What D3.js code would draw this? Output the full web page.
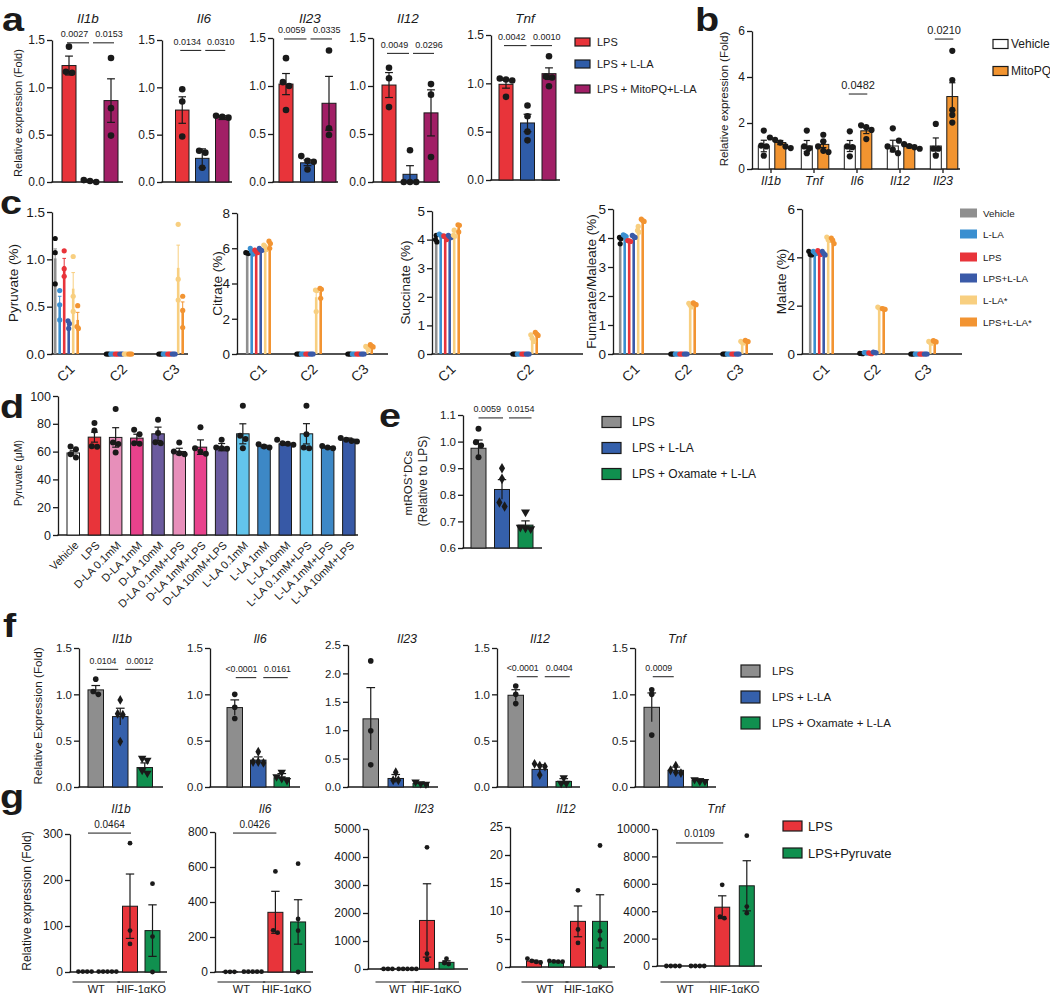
<!DOCTYPE html>
<html><head><meta charset="utf-8">
<script src="https://cdn.jsdelivr.net/npm/d3@7"></script>
<style>
body{margin:0;background:#fff;}
svg{display:block;}
</style></head><body>
<svg id="fig" width="1050" height="994"></svg>
<script>
// ================= DATA =================
// ---- panel a ----
const aGenes = ["Il1b","Il6","Il23","Il12","Tnf"];
const aGroups = ["LPS","LPS + L-LA","LPS + MitoPQ+L-LA"];
const aMeans = [[1.23,0.01,0.86],[0.76,0.25,0.68],[1.02,0.20,0.82],[1.01,0.08,0.72],[0.99,0.59,1.10]];
const aSem = [[0.10,0.005,0.23],[0.14,0.10,0.02],[0.11,0.03,0.28],[0.13,0.09,0.24],[0.04,0.09,0.06]];
const aPoints = [
  [[1.43,1.165,1.154],[0.02,0.0,0.01],[1.31,0.78,0.49]],
  [[0.98,0.85,0.48],[0.33,0.31,0.15],[0.70,0.69,0.68]],
  [[1.29,1.04,1.0,0.75],[0.27,0.22,0.21,0.13],[1.37,0.56,0.49]],
  [[1.19,1.08,0.78],[0.33,0.0,0.0,0.0],[1.02,0.91,0.26]],
  [[1.05,1.04,1.03,0.86],[0.77,0.66,0.50,0.41],[1.28,1.07,1.06,0.97]]
];
const aPvals = [["0.0027","0.0153"],["0.0134","0.0310"],["0.0059","0.0335"],["0.0049","0.0296"],["0.0042","0.0010"]];
const aPvalY = [1.47,1.39,1.49,1.34,1.39];
const aTicks = [0,0.5,1,1.5];

// ---- panel b ----
const bGenes = ["Il1b","Tnf","Il6","Il12","Il23"];
const bSeries = ["Vehicle","MitoPQ"];
const bMeans = [[1.0,1.15],[1.0,1.07],[1.0,1.66],[1.0,0.98],[1.0,3.15]];
const bSem = [[0.25,0.09],[0.24,0.14],[0.24,0.12],[0.25,0.06],[0.35,0.60]];
const bPoints = [
  [[1.67,1.02,0.98,0.58],[1.37,1.27,1.15,0.98,0.91]],
  [[1.67,0.98,0.90,0.69],[1.49,1.20,0.98,0.79,0.74]],
  [[1.64,0.98,0.95,0.55],[1.90,1.82,1.70,1.30]],
  [[1.77,0.98,0.84,0.69],[1.23,1.08,1.00,0.95,0.88]],
  [[1.96,0.88,0.88,0.58],[5.14,3.87,2.57,2.35,2.02]]
];
const bPvals = [null,null,"0.0482",null,"0.0210"];
const bPvalY = [null,null,3.26,null,5.65];
const bTicks = [0,2,4,6];

// ---- panel c ----
const cSeries = ["Vehicle","L-LA","LPS","LPS+L-LA","L-LA*","LPS+L-LA*"];
const cMetabolites = ["Pyruvate (%)","Citrate (%)","Succinate (%)","Fumarate/Maleate (%)","Malate (%)"];
const cIsotopologues = [["C1","C2","C3"],["C1","C2","C3"],["C1","C2"],["C1","C2","C3"],["C1","C2","C3"]];
const cMax = [1.5,8,5,5,6];
const cTicks = [[0,0.5,1,1.5],[0,2,4,6,8],[0,1,2,3,4,5],[0,1,2,3,4,5],[0,2,4,6]];
const cMeans = [
  [[1.01,0.52,0.93,0.31,0.69,0.36],[0,0,0,0,0,0],[0,0,0,0,0.91,0.45]],
  [[5.72,5.83,5.82,5.92,6.07,6.22],[0,0,0,0,3.22,3.52],[0,0,0,0,0.35,0.46]],
  [[4.02,4.15,4.08,4.11,4.20,4.43],[0,0,0,0,0.55,0.70]],
  [[3.93,4.08,3.90,4.05,4.28,4.60],[0,0,0,0,1.68,1.72],[0,0,0,0,0.40,0.44]],
  [[4.15,4.20,4.20,4.17,4.75,4.70],[0.02,0.05,0.03,0.06,1.90,1.86],[0,0,0,0,0.48,0.52]]
];
const cSem = [
  [[0.10,0.09,0.08,0.03,0.17,0.08],[0,0,0,0,0,0],[0,0,0,0,0.24,0.10]],
  [[0.05,0.10,0.07,0.05,0.08,0.12],[0,0,0,0,0.40,0.18],[0,0,0,0,0.06,0.05]],
  [[0.07,0.03,0.05,0.04,0.07,0.08],[0,0,0,0,0.07,0.04]],
  [[0.07,0.02,0.01,0.02,0.06,0.03],[0,0,0,0,0.04,0.02],[0,0,0,0,0.02,0.01]],
  [[0.05,0.03,0.05,0.05,0.05,0.07],[0.01,0.01,0.01,0.01,0.02,0.01],[0,0,0,0,0.02,0.02]]
];
const cPoints = [
  [ [[1.22,1.07,0.74],[0.67,0.52,0.36],[1.09,0.90,0.82],[0.35,0.32,0.27],[1.03,0.61,0.45],[0.51,0.29,0.27]],
    [[0,0,0],[0,0,0],[0,0,0],[0,0,0],[0,0,0],[0,0,0]],
    [[0,0,0],[0,0,0],[0,0,0],[0,0,0],[1.37,0.79,0.57],[0.61,0.46,0.28]] ],
  [ [[5.75,5.72,5.70],[5.99,5.83,5.67],[5.90,5.80,5.75],[6.00,5.90,5.88],[6.18,6.10,5.93],[6.40,6.27,6.00]],
    [[0,0,0],[0,0,0],[0,0,0],[0,0,0],[3.63,3.60,2.41],[3.73,3.67,3.16]],
    [[0,0,0],[0,0,0],[0,0,0],[0,0,0],[0.43,0.37,0.25],[0.53,0.45,0.40]] ],
  [ [[4.15,4.00,3.92],[4.19,4.15,4.12],[4.13,4.10,4.00],[4.15,4.10,4.07],[4.33,4.15,4.12],[4.52,4.50,4.27]],
    [[0,0,0],[0,0,0],[0,0,0],[0,0,0],[0.67,0.55,0.44],[0.76,0.70,0.65]] ],
  [ [[4.02,3.97,3.80],[4.11,4.08,4.05],[3.91,3.90,3.88],[4.09,4.05,4.02],[4.40,4.26,4.20],[4.65,4.60,4.57]],
    [[0,0,0],[0,0,0],[0,0,0],[0,0,0],[1.75,1.68,1.62],[1.76,1.72,1.70]],
    [[0,0,0],[0,0,0],[0,0,0],[0,0,0],[0.44,0.40,0.38],[0.47,0.44,0.43]] ],
  [ [[4.25,4.12,4.10],[4.25,4.20,4.15],[4.28,4.20,4.12],[4.25,4.15,4.10],[4.84,4.73,4.70],[4.80,4.70,4.57]],
    [[0.03,0.02,0.01],[0.06,0.05,0.04],[0.05,0.03,0.01],[0.08,0.06,0.05],[1.94,1.90,1.88],[1.88,1.86,1.85]],
    [[0,0,0],[0,0,0],[0,0,0],[0,0,0],[0.52,0.48,0.45],[0.55,0.52,0.50]] ]
];

// ---- panel d ----
const dCats = ["Vehicle","LPS","D-LA 0.1mM","D-LA 1mM","D-LA 10mM","D-LA 0.1mM+LPS","D-LA 1mM+LPS","D-LA 10mM+LPS",
               "L-LA 0.1mM","L-LA 1mM","L-LA 10mM","L-LA 0.1mM+LPS","L-LA 1mM+LPS","L-LA 10mM+LPS"];
const dMeans = [59.0,70.4,70.2,69.7,72.8,60.1,63.2,63.2,72.8,63.7,65.6,72.8,63.0,69.0];
const dSem = [1.6,3.6,7.0,2.8,4.8,2.3,5.2,2.6,7.2,0.9,1.0,7.3,0.6,0.8];
const dPoints = [[63.6,61.7,58.1,55.7],[80.5,75.2,63.9,63.5],[90.6,66.5,65.5,59.3],[75.7,72.5,66.0,65.6],
  [82.9,73.3,66.8,66.0],[66.5,60.0,58.9,58.1],[77.6,62.5,60.0,58.5],[68.5,63.0,62.5,62.0],
  [93.0,71.4,69.0,62.5],[65.3,63.7,63.0],[68.5,66.0,65.6,64.9],[93.0,72.5,63.0,62.5],[64.1,63.0,62.5],[69.7,68.5,67.7,67.3]];
const dTicks = [0,20,40,60,80,100];

// ---- panel e ----
const eGroups = ["LPS","LPS + L-LA","LPS + Oxamate + L-LA"];
const eMeans = [0.975,0.82,0.686];
const eSem = [0.031,0.037,0.016];
const ePoints = [[1.048,0.998,0.985,0.941],[0.90,0.86,0.771,0.756],[0.735,0.678,0.675,0.672]];
const ePvals = ["0.0059","0.0154"];
const ePvalY = 1.089;
const eTicks = [0.6,0.7,0.8,0.9,1.0,1.1];

// ---- panel f ----
const fGenes = ["Il1b","Il6","Il23","Il12","Tnf"];
const fGroups = eGroups;
const fMeans = [[1.048,0.76,0.21],[0.857,0.29,0.10],[1.20,0.15,0.06],[0.99,0.19,0.06],[0.86,0.18,0.07]];
const fSem = [[0.047,0.09,0.05],[0.083,0.035,0.045],[0.55,0.07,0.02],[0.06,0.05,0.03],[0.155,0.035,0.02]];
const fPoints = [
  [[1.164,1.03,1.0],[0.94,0.79,0.78,0.49],[0.31,0.29,0.18,0.15]],
  [[1.0,0.86,0.74],[0.38,0.27,0.27,0.26],[0.16,0.11,0.09,0.07]],
  [[2.22,0.99,0.39],[0.26,0.12,0.12],[0.09,0.05,0.06]],
  [[1.09,1.0,0.9],[0.25,0.23,0.22,0.13],[0.10,0.04,0.04]],
  [[1.05,1.0,0.56],[0.23,0.18,0.16,0.15],[0.08,0.06,0.06]]
];
const fMax = [1.5,1.5,2.5,1.5,1.5];
const fTicks = [[0,0.5,1,1.5],[0,0.5,1,1.5],[0,0.5,1,1.5,2,2.5],[0,0.5,1,1.5],[0,0.5,1,1.5]];
const fPvals = [["0.0104","0.0012"],["<0.0001","0.0161"],[],["<0.0001","0.0404"],["0.0009"]];
const fPvalY = [1.27,1.18,null,1.19,1.19];

// ---- panel g ----
const gGenes = ["Il1b","Il6","Il23","Il12","Tnf"];
const gGenotypes = ["WT","HIF-1αKO"];
const gTreat = ["LPS","LPS+Pyruvate"];
const gBars = ["WT LPS","WT LPS+Pyruvate","KO LPS","KO LPS+Pyruvate"];
const gMeans = [[1,1,143,90],[1,1,341,286],[1,1,1734,238],[1.07,1.0,8.15,8.15],[1,1,4293,5854]];
const gSem = [[0.1,0.1,70,56],[0.1,0.1,120,127],[0.1,0.1,1310,55],[0.15,0.05,2.75,4.75],[0.1,0.1,830,1830]];
const gPoints = [
  [[1,1,1,1],[1,1,1,1,1],[280,90,61],[192,77,0]],
  [[1,1,1],[2,2,2,2,2],[575,238,225],[619,303,236,0]],
  [[1,1,1],[1,1,1,1,1],[4347,546,333],[368,214,178]],
  [[1.5,1.1,0.9,0.8],[1.1,1.0,0.95,0.95],[13.7,6.7,4.3],[21.7,6.4,4.9,0]],
  [[1,1,1,1],[1,1,1,1],[5927,3610,3488],[9512,4341,3854]]
];
const gMax = [300,800,5000,25,10000];
const gTicks = [[0,100,200,300],[0,200,400,600,800],[0,1000,2000,3000,4000,5000],[0,5,10,15,20,25],[0,2000,4000,6000,8000,10000]];
const gPvals = ["0.0464","0.0426",null,null,"0.0109"];
const gPvalY = [302,794,null,null,8980];

// ================= STYLE / LAYOUT =================
const FONT = "'Liberation Sans', Arial, Helvetica, sans-serif";
const INK = "#1a1a1a";
const RED = "#e8343a", BLUE = "#2f5ca8", PURPLE = "#a11f66", ORANGE = "#f29430",
      GRAY = "#8e8e8e", GREEN = "#10904f";
const aColors = [RED, BLUE, PURPLE];
const bColors = ["#ffffff", ORANGE];
const cColors = ["#8f8f8f","#3a8fd0","#e8343a","#3a5aa8","#f8cf80","#f29432"];
const cDot = ["#111111","#3a8fd0","#e8343a","#3a5aa8","#f8cf80","#f29432"];
const dColors = ["#ffffff",RED,"#e78fba","#e8428c","#6b5b9e","#e78fba","#e8428c","#6b5b9e",
                 "#63c5ec","#3d88c6","#3759a6","#63c5ec","#3d88c6","#3759a6"];
const efColors = [GRAY, "#3560ab", GREEN];
const efShapes = ["circle","diamond","tri"];
const gColors = [RED, GREEN, RED, GREEN];

const svg = d3.select("#fig").attr("font-family", FONT);

function txt(g, x, y, s, fs, o = {}) {
  const t = g.append("text").text(s).attr("font-size", fs).attr("fill", INK)
    .attr("font-family", FONT).attr("text-anchor", o.anchor || "start");
  if (o.italic) t.attr("font-style", "italic");
  if (o.weight) t.attr("font-weight", o.weight);
  if (o.rotate != null) t.attr("transform", `translate(${x},${y}) rotate(${o.rotate})`);
  else t.attr("x", x).attr("y", y);
  return t;
}
function makeBand(cats, left, step, bw) {
  const pi = 1 - bw / step;
  const r0 = left - pi / 2 * step;
  return d3.scaleBand().domain(cats).range([r0, r0 + cats.length * step]).paddingInner(pi).paddingOuter(pi / 2);
}
function yAxis(g, y, x0, ticks, fmt, fs, tl = 5) {
  const a = g.append("g").attr("transform", `translate(${x0},0)`)
    .call(d3.axisLeft(y).tickValues(ticks).tickFormat(fmt).tickSizeInner(tl).tickSizeOuter(0).tickPadding(2));
  a.attr("font-family", FONT).attr("font-size", fs);
  a.select(".domain").attr("stroke", INK).attr("stroke-width", 1.3);
  a.selectAll(".tick line").attr("stroke", INK).attr("stroke-width", 1.3);
  a.selectAll(".tick text").attr("fill", INK);
  return a;
}
function xLine(g, x0, x1, y0) {
  g.append("line").attr("x1", x0 - 0.6).attr("x2", x1).attr("y1", y0).attr("y2", y0)
    .attr("stroke", INK).attr("stroke-width", 1.3);
}
function hline(g, x1, x2, y, w = 1) {
  g.append("line").attr("x1", x1).attr("x2", x2).attr("y1", y).attr("y2", y).attr("stroke", INK).attr("stroke-width", w);
}
function bars(g, cats, xb, y, means, sems, fills, o = {}) {
  const base = y(y.domain()[0]);
  g.selectAll(null).data(cats).enter().append("rect")
    .attr("x", c => xb(c)).attr("width", xb.bandwidth())
    .attr("y", (c, i) => y(means[i])).attr("height", (c, i) => Math.max(0, base - y(means[i])))
    .attr("fill", (c, i) => fills[i])
    .attr("stroke", o.stroke === undefined ? INK : o.stroke).attr("stroke-width", o.sw || 1);
}
function errbars(g, cats, xb, y, means, sems, o = {}) {
  cats.forEach((c, i) => {
    if (!sems[i]) return;
    const cx = xb(c) + xb.bandwidth() / 2, hw = o.cap != null ? o.cap : xb.bandwidth() * 0.28;
    const col = o.colors ? o.colors[i] : INK;
    const hi = y(means[i] + sems[i]), lo = y(Math.max(y.domain()[0], means[i] - sems[i]));
    const w = o.w || 1.2;
    g.append("line").attr("x1", cx).attr("x2", cx).attr("y1", hi).attr("y2", lo).attr("stroke", col).attr("stroke-width", w);
    g.append("line").attr("x1", cx - hw).attr("x2", cx + hw).attr("y1", hi).attr("y2", hi).attr("stroke", col).attr("stroke-width", w);
    if (o.low !== false) g.append("line").attr("x1", cx - hw).attr("x2", cx + hw).attr("y1", lo).attr("y2", lo).attr("stroke", col).attr("stroke-width", w);
  });
}
function spread(vals, y, r, gap) {
  const idx = vals.map((v, i) => i).sort((a, b) => vals[b] - vals[a]);
  const off = new Array(vals.length).fill(0);
  const clusters = []; let cur = [];
  idx.forEach(i => {
    if (cur.length && Math.abs(y(vals[i]) - y(vals[cur[cur.length - 1]])) > r * 1.5) { clusters.push(cur); cur = []; }
    cur.push(i);
  });
  if (cur.length) clusters.push(cur);
  clusters.forEach(c => c.forEach((i, j) => off[i] = (j - (c.length - 1) / 2) * gap));
  return off;
}
function scatter(g, cx, vals, y, r, col, shape = "circle", gap = null) {
  const off = spread(vals, y, r, gap == null ? r * 1.9 : gap);
  vals.forEach((v, i) => {
    const px = cx + off[i], py = y(v);
    if (shape === "circle") g.append("circle").attr("cx", px).attr("cy", py).attr("r", r).attr("fill", col);
    else {
      const sym = shape === "diamond" ? d3.symbolDiamond : d3.symbolTriangle;
      const size = Math.PI * r * r * (shape === "diamond" ? 1.15 : 1.25);
      g.append("path").attr("d", d3.symbol(sym, size)())
        .attr("transform", `translate(${px},${py})${shape === "tri" ? " rotate(180)" : ""}`).attr("fill", col);
    }
  });
}
function legend(g, x, ys, labels, fills, w, h, fs, tx, stroke = INK) {
  labels.forEach((l, i) => {
    g.append("rect").attr("x", x).attr("y", ys[i] - h / 2).attr("width", w).attr("height", h)
      .attr("fill", fills[i]).attr("stroke", stroke).attr("stroke-width", 1.2);
    txt(g, tx, ys[i] + fs * 0.36, l, fs);
  });
}
function panelLetter(x, y, s) {
  txt(svg, 0, 0, s, 30, { weight: "bold" }).attr("x", null).attr("y", null)
    .attr("transform", `translate(${x},${y}) scale(1.32,1.08)`);
}
// p-value bracket: line from x1 to x2 at ly, text shifted by dx
function pBracket(g, x1, x2, ly, label, fs, dx) {
  hline(g, x1, x2, ly);
  txt(g, (x1 + x2) / 2 + dx, ly - 5.5, label, fs, { anchor: "middle" });
}

// ================= PANEL a =================
const aLayout = [
  { ax: 52, left: 62, step: 21, bw: 14, end: 123, top: 40, bot: 182, tx: 88 },
  { ax: 162, left: 175.5, step: 20, bw: 13.5, end: 232, top: 40, bot: 182, tx: 204 },
  { ax: 273, left: 279, step: 21.5, bw: 14, end: 338, top: 38, bot: 182, tx: 310 },
  { ax: 373, left: 382, step: 21, bw: 14, end: 440, top: 38, bot: 182, tx: 408 },
  { ax: 491, left: 499, step: 21.5, bw: 14, end: 560, top: 35, bot: 180, tx: 525 }
];
panelLetter(2, 31, "a");
const aG = svg.append("g");
aGenes.forEach((gene, k) => {
  const L = aLayout[k];
  const y = d3.scaleLinear().domain([0, 1.5]).range([L.bot, L.top]);
  const xb = makeBand(aGroups, L.left, L.step, L.bw);
  yAxis(aG, y, L.ax, aTicks, d3.format(".1f"), 12);
  xLine(aG, L.ax, L.end, L.bot);
  bars(aG, aGroups, xb, y, aMeans[k], aSem[k], aColors);
  aGroups.forEach((c, i) => scatter(aG, xb(c) + xb.bandwidth() / 2, aPoints[k][i], y, 3.3, INK, "circle", 6.2));
  errbars(aG, aGroups, xb, y, aMeans[k], aSem[k]);
  txt(aG, L.tx, 23, gene, 13.5, { anchor: "middle", italic: true });
  const cen = aGroups.map(c => xb(c) + xb.bandwidth() / 2);
  const ly = y(aPvalY[k]);
  pBracket(aG, cen[0] - 2, cen[1] - 1, ly, aPvals[k][0], 9, -3.5);
  pBracket(aG, cen[1] + 3, cen[2] + 3, ly, aPvals[k][1], 9, 5.5);
});
txt(aG, 22, 113, "Relative expression (Fold)", 11, { anchor: "middle", rotate: -90 });
legend(aG, 575, [42, 64, 89], aGroups, aColors, 15, 8, 11, 597);

// ================= PANEL b =================
panelLetter(695, 31, "b");
const bG = svg.append("g");
{
  const y = d3.scaleLinear().domain([0, 6]).range([169, 31]);
  const xo = d3.scaleBand().domain(bGenes).range([749.5, 749.5 + 5 * 43]);
  const xi = makeBand(bSeries, 8.8, 16.5, 11);
  yAxis(bG, y, 752, bTicks, d3.format("d"), 12);
  xLine(bG, 752, 960, 169);
  bGenes.forEach((gene, k) => {
    const gx = bG.append("g").attr("transform", `translate(${xo(gene)},0)`);
    bars(gx, bSeries, xi, y, bMeans[k], bSem[k], bColors);
    bSeries.forEach((s, i) => scatter(gx, xi(s) + xi.bandwidth() / 2, bPoints[k][i], y, 3.1, INK, "circle", 5.2));
    errbars(gx, bSeries, xi, y, bMeans[k], bSem[k]);
    const cx = xo(gene) + xo.bandwidth() / 2;
    bG.append("line").attr("x1", cx).attr("x2", cx).attr("y1", 169).attr("y2", 173).attr("stroke", INK).attr("stroke-width", 1.3);
    txt(bG, cx, 185, gene, 12.5, { anchor: "middle", italic: true });
    if (bPvals[k]) {
      const c0 = xo(gene) + xi(bSeries[0]) + xi.bandwidth() / 2 - 1, c1 = xo(gene) + xi(bSeries[1]) + xi.bandwidth() / 2 + 1;
      pBracket(bG, c0, c1, y(bPvalY[k]), bPvals[k], 11, 0);
    }
  });
  txt(bG, 728, 99, "Relative expression (Fold)", 11.6, { anchor: "middle", rotate: -90 });
  legend(bG, 993, [44, 71], bSeries, bColors, 15, 9, 12, 1011);
}

// ================= PANEL c =================
panelLetter(0, 214, "c");
const cG = svg.append("g");
const cLayout = [
  { ax: 52, left: 53, step: 52.5, end: 188, top: 212, lx: 18 },
  { ax: 237, left: 245, step: 51, end: 388, top: 213, lx: 222 },
  { ax: 432, left: 434, step: 78, end: 583, top: 211, lx: 410 },
  { ax: 613, left: 618, step: 52, end: 773, top: 209, lx: 596 },
  { ax: 802, left: 808, step: 51, end: 962, top: 209, lx: 786 }
];
const cBot = 354;
cMetabolites.forEach((m, k) => {
  const L = cLayout[k];
  const groups = cIsotopologues[k];
  const y = d3.scaleLinear().domain([0, cMax[k]]).range([cBot, L.top]);
  const xo = makeBand(groups, L.left, L.step, 27);
  const xi = makeBand(cSeries, 0.9, 4.5, 2.6);
  yAxis(cG, y, L.ax, cTicks[k], cMax[k] < 2 ? d3.format(".1f") : d3.format("d"), 13.5, 5);
  xLine(cG, L.ax, L.end, cBot);
  groups.forEach((gn, gi) => {
    const gx = cG.append("g").attr("transform", `translate(${xo(gn)},0)`);
    bars(gx, cSeries, xi, y, cMeans[k][gi], cSem[k][gi], cColors, { stroke: "none" });
    errbars(gx, cSeries, xi, y, cMeans[k][gi], cSem[k][gi], { colors: cColors, cap: 1.8, w: 1, low: false });
    cSeries.forEach((s, si) => scatter(gx, xi(s) + xi.bandwidth() / 2, cPoints[k][gi][si], y, 2.6, cDot[si], "circle", 1.4));
    txt(cG, xo(gn) + xo.bandwidth() / 2 + 9, cBot + 16, gn, 14, { anchor: "end", rotate: -45 });
  });
  txt(cG, L.lx, (L.top + cBot) / 2, m, 13.5, { anchor: "middle", rotate: -90 });
});
legend(cG, 960, [213, 234, 257, 278, 300, 322], cSeries, cColors, 17, 9, 9.8, 983, "none");

// ================= PANEL d =================
panelLetter(0, 418, "d");
const dG = svg.append("g");
{
  const y = d3.scaleLinear().domain([0, 100]).range([535, 396]);
  const xb = makeBand(dCats, 67, 21.2, 12.5);
  yAxis(dG, y, 58, dTicks, d3.format("d"), 12.5, 5);
  xLine(dG, 58, 358, 535);
  bars(dG, dCats, xb, y, dMeans, dSem, dColors);
  dCats.forEach((c, i) => scatter(dG, xb(c) + xb.bandwidth() / 2, dPoints[i], y, 3, INK, "circle", 5.4));
  errbars(dG, dCats, xb, y, dMeans, dSem);
  dCats.forEach(c => txt(dG, xb(c) + xb.bandwidth() / 2 + 6, 546, c, 11, { anchor: "end", rotate: -45 }));
  txt(dG, 22, 473, "Pyruvate (μM)", 10.5, { anchor: "middle", rotate: -90 });
}

// ================= PANEL e =================
panelLetter(379, 427, "e");
const eG = svg.append("g");
{
  const y = d3.scaleLinear().domain([0.6, 1.1]).range([548, 415]);
  const xb = makeBand(eGroups, 471, 23.5, 15);
  yAxis(eG, y, 463, eTicks, d3.format(".1f"), 11.5, 5);
  xLine(eG, 463, 542, 548);
  bars(eG, eGroups, xb, y, eMeans, eSem, efColors);
  eGroups.forEach((c, i) => scatter(eG, xb(c) + xb.bandwidth() / 2, ePoints[i], y, 3, INK, efShapes[i], 5.2));
  errbars(eG, eGroups, xb, y, eMeans, eSem, { low: false });
  const cen = eGroups.map(c => xb(c) + xb.bandwidth() / 2);
  pBracket(eG, cen[0], cen[1] + 1, y(ePvalY), ePvals[0], 9, -3.5);
  pBracket(eG, cen[1] + 7, cen[2] + 6, y(ePvalY), ePvals[1], 9, 0.5);
  const t1 = txt(eG, 412, 483, "mtROS", 11.5, { anchor: "middle", rotate: -90 });
  t1.append("tspan").attr("baseline-shift", "super").attr("font-size", 8).text("+");
  t1.append("tspan").text("DCs");
  txt(eG, 427, 481, "(Relative to LPS)", 12, { anchor: "middle", rotate: -90 });
  legend(eG, 602, [422, 448, 474], eGroups, efColors, 19, 11, 12, 632);
}

// ================= PANEL f =================
panelLetter(3, 637, "f");
const fG = svg.append("g");
const fLayout = [
  { ax: 79, left: 88, step: 24.5, end: 163, tx: 122 },
  { ax: 210, left: 227, step: 23.5, end: 300, tx: 260 },
  { ax: 348, left: 363, step: 25, end: 438, tx: 407 },
  { ax: 497, left: 508, step: 24, end: 580, tx: 540 },
  { ax: 635, left: 644, step: 24, end: 716, tx: 677 }
];
fGenes.forEach((gene, k) => {
  const L = fLayout[k];
  const y = d3.scaleLinear().domain([0, fMax[k]]).range([787, fMax[k] > 2 ? 645 : 648]);
  const xb = makeBand(fGroups, L.left, L.step, 15.5);
  yAxis(fG, y, L.ax, fTicks[k], d3.format(".1f"), 11.5, 5);
  xLine(fG, L.ax, L.end, 787);
  bars(fG, fGroups, xb, y, fMeans[k], fSem[k], efColors);
  fGroups.forEach((c, i) => scatter(fG, xb(c) + xb.bandwidth() / 2, fPoints[k][i], y, 2.8, INK, efShapes[i], 5.2));
  errbars(fG, fGroups, xb, y, fMeans[k], fSem[k], { low: false });
  txt(fG, L.tx, 643, gene, 12.5, { anchor: "middle", italic: true });
  const cen = fGroups.map(c => xb(c) + xb.bandwidth() / 2);
  fPvals[k].forEach((p, j) => {
    const x1 = cen[j] + (j ? 5 : 1), x2 = cen[j + 1] + (j ? 6 : -2);
    pBracket(fG, x1, x2, y(fPvalY[k]), p, 8.8, j ? 2 : -4.5);
  });
});
txt(fG, 41.5, 716, "Relative Expression (Fold)", 11.7, { anchor: "middle", rotate: -90 });
legend(fG, 741, [671, 697, 723], fGroups, efColors, 19, 12, 11.5, 772);

// ================= PANEL g =================
panelLetter(0, 808, "g");
const gG = svg.append("g");
const gLayout = [
  { ax: 70, left: 77.5, step: 22.5, end: 167, top: 834, bot: 972, tx: 121 },
  { ax: 215, left: 222.5, step: 22.7, end: 313, top: 832, bot: 972, tx: 265 },
  { ax: 368, left: 380.5, step: 19.5, end: 468, top: 829, bot: 969, tx: 424 },
  { ax: 510, left: 526.5, step: 22, end: 615, top: 827, bot: 967, tx: 566 },
  { ax: 657, left: 665.5, step: 24.6, end: 762, top: 829, bot: 966, tx: 716 }
];
gGenes.forEach((gene, k) => {
  const L = gLayout[k];
  const y = d3.scaleLinear().domain([0, gMax[k]]).range([L.bot, L.top]);
  const xb = makeBand(gBars, L.left, L.step, 15);
  yAxis(gG, y, L.ax, gTicks[k], d3.format("d"), 12, 5);
  xLine(gG, L.ax, L.end, L.bot);
  bars(gG, gBars, xb, y, gMeans[k], gSem[k], gColors);
  gBars.forEach((c, i) => scatter(gG, xb(c) + xb.bandwidth() / 2, gPoints[k][i], y, 2.4, INK, "circle", 4.4));
  errbars(gG, gBars, xb, y, gMeans[k], gSem[k]);
  txt(gG, L.tx, 813, gene, 12, { anchor: "middle", italic: true });
  gGenotypes.forEach((gt, j) => {
    const b0 = xb(gBars[2 * j]), b1 = xb(gBars[2 * j + 1]) + xb.bandwidth();
    hline(gG, b0 - 5, b1 + 5, 982, 1.2);
    txt(gG, (b0 + b1) / 2, 993, gt, 11, { anchor: "middle" });
  });
  if (gPvals[k]) {
    const c0 = xb(gBars[0]) + xb.bandwidth() / 2 + 3, c1 = xb(gBars[2]) + xb.bandwidth() / 2 + 1;
    pBracket(gG, c0, c1, y(gPvalY[k]), gPvals[k], 10, 0);
  }
});
txt(gG, 30.5, 901, "Relative expression (Fold)", 12, { anchor: "middle", rotate: -90 });
legend(gG, 783, [826, 853], gTreat, [RED, GREEN], 19, 10, 13, 808);
</script></body></html>
